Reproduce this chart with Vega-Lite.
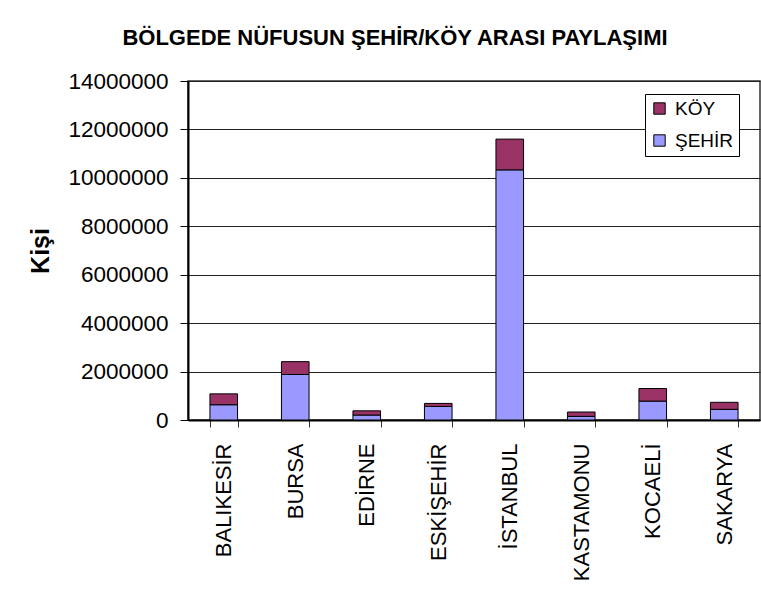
{
  "$schema": "https://vega.github.io/schema/vega-lite/v6.json",
  "width": 572,
  "height": 339,
  "autosize": "none",
  "padding": {"left": 188, "top": 81, "right": 1, "bottom": 185},
  "background": "white",
  "title": {
    "text": "BÖLGEDE NÜFUSUN ŞEHİR/KÖY ARASI PAYLAŞIMI",
    "font": "Liberation Sans",
    "fontSize": 22,
    "fontWeight": "bold",
    "color": "black",
    "anchor": "middle",
    "dx": -79,
    "offset": 20
  },
  "data": {
    "values": [
      {"il": "BALIKESİR", "tur": "ŞEHİR", "nufus": 630000},
      {"il": "BALIKESİR", "tur": "KÖY", "nufus": 450000},
      {"il": "BURSA", "tur": "ŞEHİR", "nufus": 1880000},
      {"il": "BURSA", "tur": "KÖY", "nufus": 530000},
      {"il": "EDİRNE", "tur": "ŞEHİR", "nufus": 205000},
      {"il": "EDİRNE", "tur": "KÖY", "nufus": 175000},
      {"il": "ESKİŞEHİR", "tur": "ŞEHİR", "nufus": 560000},
      {"il": "ESKİŞEHİR", "tur": "KÖY", "nufus": 125000},
      {"il": "İSTANBUL", "tur": "ŞEHİR", "nufus": 10330000},
      {"il": "İSTANBUL", "tur": "KÖY", "nufus": 1270000},
      {"il": "KASTAMONU", "tur": "ŞEHİR", "nufus": 150000},
      {"il": "KASTAMONU", "tur": "KÖY", "nufus": 180000},
      {"il": "KOCAELİ", "tur": "ŞEHİR", "nufus": 780000},
      {"il": "KOCAELİ", "tur": "KÖY", "nufus": 520000},
      {"il": "SAKARYA", "tur": "ŞEHİR", "nufus": 440000},
      {"il": "SAKARYA", "tur": "KÖY", "nufus": 290000}
    ]
  },
  "mark": {"type": "bar", "stroke": "black", "strokeWidth": 1},
  "encoding": {
    "x": {
      "field": "il",
      "type": "nominal",
      "sort": null,
      "scale": {"paddingInner": 0.614, "paddingOuter": 0.307},
      "axis": {
        "title": null,
        "labelAngle": -90,
        "labelAlign": "right",
        "labelBaseline": "middle",
        "labelFont": "Liberation Sans",
        "labelFontSize": 22,
        "labelColor": "black",
        "labelPadding": 16,
        "tickBand": "extent",
        "tickSize": 7,
        "tickColor": "#333333",
        "domainColor": "black",
        "domainWidth": 2,
        "grid": false
      }
    },
    "y": {
      "field": "nufus",
      "type": "quantitative",
      "stack": "zero",
      "scale": {"domain": [0, 14000000], "nice": false},
      "axis": {
        "title": "Kişi",
        "titleFont": "Liberation Sans",
        "titleFontSize": 25,
        "titleFontWeight": "bold",
        "titleColor": "black",
        "titlePadding": 14,
        "values": [0, 2000000, 4000000, 6000000, 8000000, 10000000, 12000000, 14000000],
        "format": "d",
        "labelFont": "Liberation Sans",
        "labelFontSize": 22.5,
        "labelColor": "black",
        "labelPadding": 12,
        "tickSize": 8,
        "tickColor": "black",
        "domainColor": "black",
        "domainWidth": 2,
        "grid": true,
        "gridColor": "#222222",
        "gridWidth": 1
      }
    },
    "color": {
      "field": "tur",
      "type": "nominal",
      "scale": {"domain": ["KÖY", "ŞEHİR"], "range": ["#993366", "#9999FF"]},
      "legend": {
        "title": null,
        "orient": "none",
        "legendX": 457,
        "legendY": 13,
        "direction": "vertical",
        "fillColor": "white",
        "strokeColor": "black",
        "padding": 5,
        "symbolType": "square",
        "symbolSize": 130,
        "symbolStrokeColor": "black",
        "symbolStrokeWidth": 1,
        "labelFont": "Liberation Sans",
        "labelFontSize": 19,
        "labelColor": "black",
        "rowPadding": 12,
        "labelOffset": 6
      }
    },
    "order": {"field": "tur", "sort": "descending"}
  },
  "config": {
    "view": {"stroke": "#333333", "strokeWidth": 1.5}
  }
}
